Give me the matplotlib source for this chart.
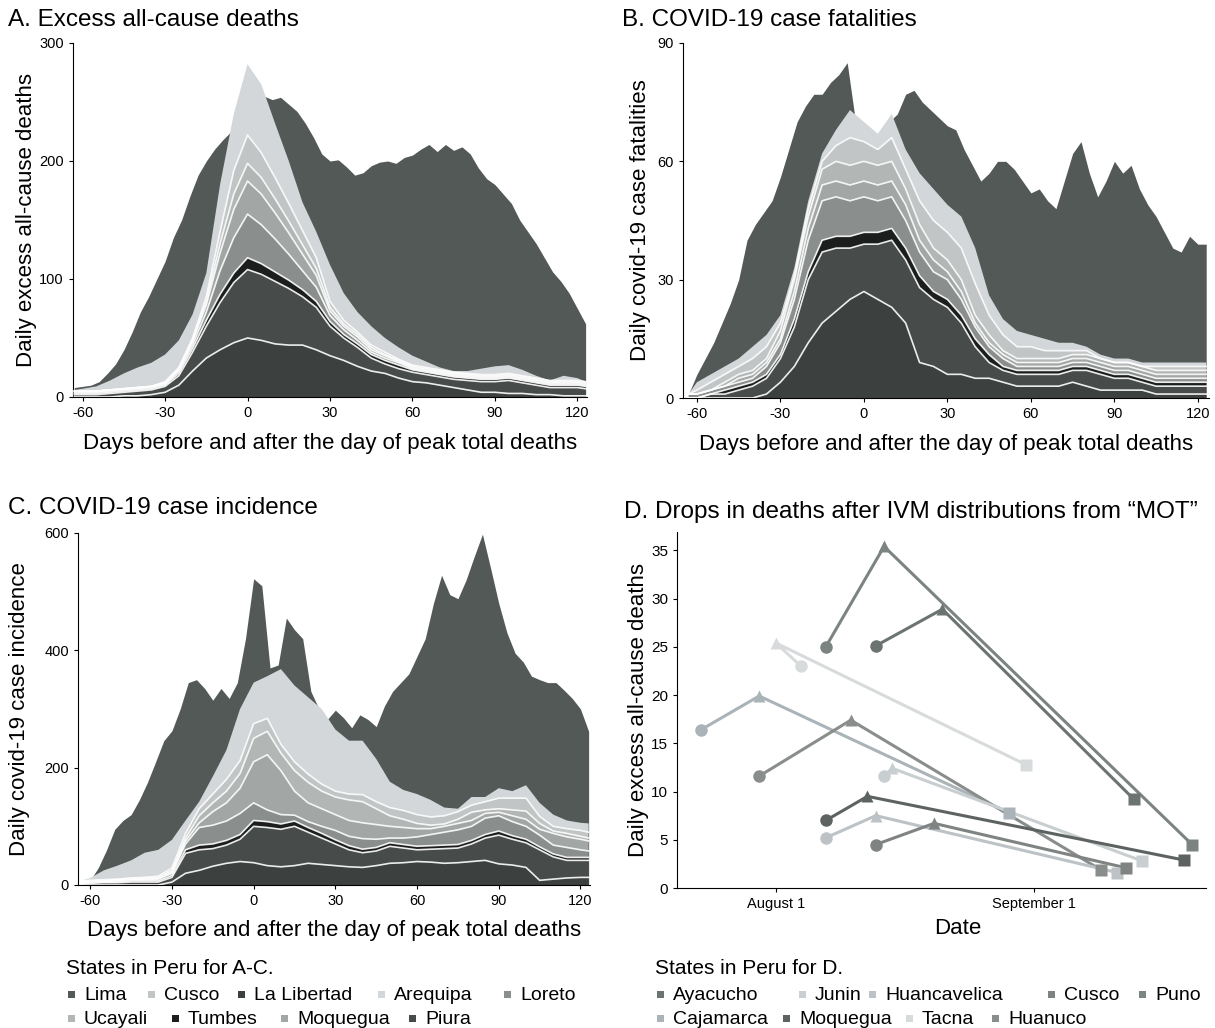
import numpy as np
import matplotlib
matplotlib.use("Agg")
import matplotlib.pyplot as plt
from matplotlib.patches import Rectangle

plt.rcParams['font.family'] = ['Liberation Sans', 'DejaVu Sans']
plt.rcParams['axes.unicode_minus'] = False

W, H = 1215, 1028

# ---- days relative to the day of peak total deaths ----
lima_days = [-63, -60, -57, -54, -51, -48, -45, -42, -39, -36, -33, -30, -27, -24, -21, -18, -15, -12, -9, -6,
             -3, 0, 3, 6, 9, 12, 15, 18, 21, 24, 27, 30, 33, 36, 39, 42, 45, 48, 51, 54,
             57, 60, 63, 66, 69, 72, 75, 78, 81, 84, 87, 90, 93, 96, 99, 102, 105, 108, 111, 114,
             117, 120, 123]
stack_days = [-63, -60, -55, -50, -45, -40, -35, -30, -25, -20, -15, -10, -5, 0, 5, 10, 15, 20, 25, 30,
              35, 40, 45, 50, 55, 60, 65, 70, 75, 80, 85, 90, 95, 100, 105, 110, 115, 120, 123]

# ---- A. excess all-cause deaths ----
exc_lima = [8, 9, 10, 13, 20, 28, 40, 55, 72, 85, 100, 115, 135, 150, 170, 188, 200, 210, 218, 225,
            235, 245, 250, 255, 252, 254, 248, 242, 232, 220, 206, 200, 201, 195, 188, 190, 196, 199, 200, 198,
            203, 205, 210, 214, 208, 214, 209, 212, 206, 194, 185, 180, 172, 164, 150, 140, 130, 118, 106, 98,
            88, 75, 62]
exc_lalibertad = [0, 0, 0, 0, 1, 1, 2, 4, 10, 22, 33, 40, 46, 50, 48, 45, 44, 44, 40, 35,
                  31, 26, 22, 20, 16, 13, 12, 10, 8, 6, 4, 4, 3, 3, 2, 2, 1, 1, 1]
exc_piura = [2, 2, 2, 3, 3, 4, 4, 5, 8, 16, 27, 40, 51, 58, 56, 53, 48, 41, 36, 25,
             19, 16, 11, 8, 8, 8, 7, 7, 7, 8, 9, 9, 11, 9, 8, 6, 7, 7, 6]
exc_tumbes = [1, 1, 1, 1, 1, 1, 1, 1, 2, 3, 5, 7, 8, 10, 9, 8, 7, 6, 5, 4,
              3, 3, 3, 3, 3, 2, 2, 2, 2, 2, 2, 2, 2, 2, 2, 2, 2, 2, 2]
exc_loreto = [1, 1, 1, 1, 1, 1, 1, 1, 2, 3, 7, 20, 30, 37, 33, 28, 22, 16, 12, 5,
              4, 3, 2, 2, 2, 1, 1, 1, 1, 1, 1, 1, 1, 1, 1, 1, 1, 1, 1]
exc_moquegua = [1, 1, 1, 1, 1, 1, 1, 1, 1, 3, 6, 15, 24, 28, 26, 22, 18, 14, 10, 4,
                3, 3, 2, 2, 1, 1, 1, 1, 1, 1, 1, 1, 1, 1, 1, 1, 1, 1, 1]
exc_ucayali = [0, 0, 0, 0, 0, 0, 0, 0, 1, 1, 3, 8, 13, 15, 14, 12, 10, 8, 6, 3,
               2, 2, 2, 1, 1, 1, 1, 1, 1, 1, 1, 1, 1, 1, 1, 1, 1, 1, 1]
exc_cusco = [0, 0, 0, 0, 0, 0, 0, 1, 1, 2, 4, 10, 20, 24, 21, 18, 15, 12, 9, 5,
             3, 2, 2, 2, 1, 1, 1, 1, 1, 1, 1, 1, 1, 1, 1, 1, 1, 1, 1]
exc_arequipa = [1, 2, 4, 8, 13, 17, 20, 23, 23, 20, 20, 40, 48, 60, 58, 46, 36, 24, 22, 31,
                23, 17, 16, 12, 10, 8, 5, 2, 1, 2, 5, 7, 7, 5, 2, 0, 4, 2, 0]

# ---- B. covid-19 case fatalities ----
fat_lima = [1, 6, 10, 14, 19, 24, 30, 40, 44, 47, 50, 56, 63, 70, 74, 77, 77, 80, 82, 85,
            70, 68, 65, 66, 70, 72, 77, 78, 75, 73, 71, 69, 68, 63, 59, 55, 57, 60, 60, 58,
            55, 52, 53, 50, 48, 55, 62, 65, 57, 51, 55, 60, 57, 59, 53, 49, 46, 42, 38, 37,
            41, 39, 39]
fat_lalibertad = [0, 0, 0, 0, 0, 0, 1, 4, 8, 14, 19, 22, 25, 27, 25, 23, 19, 9, 8, 6,
                  6, 5, 5, 4, 3, 3, 3, 3, 4, 3, 2, 2, 2, 2, 1, 1, 1, 1, 1]
fat_piura = [0, 0, 1, 1, 2, 3, 4, 6, 10, 16, 18, 16, 13, 12, 14, 17, 16, 19, 17, 17,
             13, 8, 4, 3, 3, 3, 3, 3, 3, 4, 4, 3, 3, 2, 2, 2, 2, 2, 2]
fat_tumbes = [0, 0, 0, 1, 1, 1, 1, 1, 2, 2, 3, 3, 3, 3, 3, 3, 3, 3, 2, 2,
              2, 2, 2, 1, 1, 1, 1, 1, 1, 1, 1, 1, 1, 1, 1, 1, 1, 1, 1]
fat_loreto = [1, 1, 1, 1, 1, 1, 2, 3, 5, 8, 10, 10, 9, 9, 8, 8, 7, 6, 5, 5,
              4, 3, 2, 2, 1, 1, 1, 1, 1, 1, 1, 1, 1, 1, 1, 1, 1, 1, 1]
fat_moquegua = [0, 0, 0, 0, 1, 1, 1, 1, 2, 3, 4, 4, 4, 4, 4, 4, 4, 3, 3, 2,
                2, 1, 1, 1, 1, 1, 1, 1, 1, 1, 1, 1, 1, 1, 1, 1, 1, 1, 1]
fat_ucayali = [0, 0, 0, 1, 1, 1, 1, 2, 3, 3, 4, 5, 5, 5, 5, 5, 4, 4, 3, 3,
               3, 2, 2, 1, 1, 1, 1, 1, 1, 1, 1, 1, 1, 1, 1, 1, 1, 1, 1]
fat_cusco = [0, 1, 2, 2, 2, 3, 3, 2, 1, 2, 2, 4, 7, 5, 4, 6, 5, 6, 7, 7,
             8, 8, 5, 4, 3, 3, 2, 2, 1, 1, 0, 0, 0, 0, 1, 1, 1, 1, 1]
fat_arequipa = [0, 2, 2, 2, 2, 3, 3, 2, 2, 2, 2, 4, 7, 5, 4, 6, 5, 7, 8, 7,
                8, 9, 5, 4, 4, 3, 3, 2, 2, 1, 1, 1, 1, 1, 1, 1, 1, 1, 1]

# ---- C. covid-19 case incidence ----
inc_lima = [0, 8, 30, 60, 95, 110, 120, 145, 175, 210, 246, 263, 300, 345, 350, 335, 315, 335, 318, 345,
            420, 522, 510, 370, 375, 455, 435, 420, 330, 300, 282, 298, 285, 268, 290, 282, 270, 305, 330, 345,
            360, 390, 420, 480, 528, 495, 488, 520, 560, 598, 540, 480, 430, 395, 380, 356, 350, 345, 345, 332,
            318, 300, 262]
inc_lalibertad = [0, 0, 0, 0, 0, 0, 0, 5, 20, 25, 32, 37, 40, 38, 33, 31, 33, 37, 35, 33,
                  31, 30, 33, 37, 38, 40, 39, 37, 38, 40, 42, 36, 34, 30, 8, 10, 12, 13, 13]
inc_piura = [2, 3, 4, 4, 5, 5, 5, 8, 34, 35, 30, 31, 38, 62, 65, 64, 67, 53, 45, 37,
             29, 25, 25, 29, 25, 20, 22, 25, 25, 30, 38, 49, 44, 42, 52, 38, 30, 29, 29]
inc_tumbes = [1, 1, 1, 1, 2, 2, 2, 3, 6, 8, 8, 8, 8, 10, 10, 9, 9, 8, 8, 7,
              7, 6, 6, 6, 6, 6, 6, 6, 6, 6, 6, 7, 6, 6, 5, 5, 5, 5, 5]
inc_loreto = [1, 1, 1, 2, 2, 2, 3, 4, 10, 30, 32, 33, 36, 30, 20, 16, 10, 10, 12, 16,
              16, 18, 14, 8, 11, 16, 19, 22, 25, 24, 28, 26, 24, 22, 20, 15, 17, 13, 11]
inc_moquegua = [1, 1, 1, 1, 1, 1, 1, 2, 5, 8, 23, 31, 43, 70, 94, 75, 41, 32, 30, 27,
                27, 27, 25, 20, 18, 14, 10, 10, 11, 10, 8, 6, 10, 12, 10, 20, 18, 18, 17]
inc_ucayali = [1, 1, 1, 1, 1, 2, 2, 3, 5, 12, 15, 20, 25, 40, 40, 30, 35, 35, 30, 30,
               35, 36, 27, 18, 14, 9, 6, 4, 7, 14, 6, 6, 10, 14, 10, 4, 6, 5, 5]
inc_cusco = [1, 1, 1, 1, 1, 1, 2, 4, 8, 12, 15, 20, 22, 25, 22, 15, 15, 14, 12, 10,
             10, 12, 12, 14, 15, 15, 14, 14, 13, 12, 14, 18, 20, 22, 12, 8, 8, 10, 10]
inc_arequipa = [1, 4, 16, 23, 30, 42, 45, 48, 22, 12, 30, 50, 88, 70, 72, 128, 130, 131, 128, 105,
                91, 92, 73, 44, 35, 35, 29, 14, 5, 14, 8, 17, 12, 22, 23, 20, 14, 13, 15]

# ---- D. drops in deaths after IVM distributions ----
d_states = ['Puno', 'Ayacucho', 'Tacna', 'Cajamarca', 'Huanuco', 'Junin', 'Moquegua', 'Huancavelica', 'Cusco']
d_dates = [['2020-08-07', '2020-08-14', '2020-09-20'],
           ['2020-08-13', '2020-08-21', '2020-09-13'],
           ['2020-08-04', '2020-08-01', '2020-08-31'],
           ['2020-07-23', '2020-07-30', '2020-08-29'],
           ['2020-07-30', '2020-08-10', '2020-09-09'],
           ['2020-08-14', '2020-08-15', '2020-09-14'],
           ['2020-08-07', '2020-08-12', '2020-09-19'],
           ['2020-08-07', '2020-08-13', '2020-09-11'],
           ['2020-08-13', '2020-08-20', '2020-09-12']]
d_values = [[25.0, 35.4, 4.5],
            [25.1, 28.9, 9.2],
            [23.0, 25.4, 12.8],
            [16.4, 19.9, 7.8],
            [11.6, 17.4, 1.9],
            [11.6, 12.4, 2.8],
            [7.0, 9.5, 2.9],
            [5.2, 7.5, 1.6],
            [4.5, 6.7, 2.1]]
d_colors = ['#7c8482', '#6c7471', '#d8dbdc', '#aab3b7', '#898d8c', '#c9ced1', '#5d6361', '#bcc2c5', '#7f8483']

# stacking order (bottom to top) and colours for A-C
stack_states = ['La Libertad', 'Piura', 'Tumbes', 'Loreto', 'Moquegua', 'Ucayali', 'Cusco', 'Arequipa']
stack_colors = ['#3c403e', '#474c4a', '#1c1e1d', '#8a8f8d', '#a2a6a5', '#b2b6b5', '#c1c5c5', '#d3d7da']
lima_color = '#535956'

fig = plt.figure(figsize=(W / 100, H / 100), dpi=100)


def px_axes(left, top, right, bottom):
    return fig.add_axes([left / W, 1 - bottom / H, (right - left) / W, (bottom - top) / H])


def area_panel(ax, lima, layers, ymax, yticks, xlim, ylabel, ylab_x, xlab_y):
    ax.fill_between(lima_days, lima, 0, color=lima_color, lw=0, zorder=1)
    ax.stackplot(stack_days, *layers, colors=stack_colors, lw=0, zorder=2)
    tops = np.cumsum(np.array(layers, dtype=float), axis=0)
    for k in range(len(layers) - 1):
        ax.plot(stack_days, tops[k], color='white', lw=1.2, alpha=0.9, zorder=3)
    ax.set_xlim(*xlim)
    ax.set_ylim(0, ymax)
    ax.set_xticks([-60, -30, 0, 30, 60, 90, 120])
    ax.set_yticks(yticks)
    for s in ['top', 'right']:
        ax.spines[s].set_visible(False)
    ax.tick_params(labelsize=10.5, length=3, width=0.8, direction='out')
    ax.set_xlabel('Days before and after the day of peak total deaths', fontsize=16)
    ax.xaxis.set_label_coords(0.5, xlab_y)
    ax.set_ylabel(ylabel, fontsize=16)
    ax.yaxis.set_label_coords(ylab_x, 0.5)


axA = px_axes(73, 43, 587, 397)
area_panel(axA, exc_lima,
           [exc_lalibertad, exc_piura, exc_tumbes, exc_loreto, exc_moquegua, exc_ucayali, exc_cusco, exc_arequipa],
           300, [0, 100, 200, 300], (-63.5, 123.5), 'Daily excess all-cause deaths', -0.070, -0.102)

axB = px_axes(683, 43, 1209, 398)
area_panel(axB, fat_lima,
           [fat_lalibertad, fat_piura, fat_tumbes, fat_loreto, fat_moquegua, fat_ucayali, fat_cusco, fat_arequipa],
           90, [0, 30, 60, 90], (-65, 124), 'Daily covid-19 case fatalities', -0.061, -0.102)

axC = px_axes(78, 533, 590, 885)
area_panel(axC, inc_lima,
           [inc_lalibertad, inc_piura, inc_tumbes, inc_loreto, inc_moquegua, inc_ucayali, inc_cusco, inc_arequipa],
           600, [0, 200, 400, 600], (-64.5, 123.5), 'Daily covid-19 case incidence', -0.094, -0.099)

# panel D
axD = px_axes(677, 532, 1206, 888)
for st, dt, vals, col in zip(d_states, d_dates, d_values, d_colors):
    x = np.array(dt, dtype='datetime64[D]')
    axD.plot(x, vals, color=col, lw=2.2, zorder=2)
    axD.plot(x[0], vals[0], 'o', ms=9, color=col, mec='none', zorder=3)
    axD.plot(x[1], vals[1], '^', ms=9, color=col, mec='none', zorder=3)
    axD.plot(x[2], vals[2], 's', ms=9, color=col, mec='none', zorder=3)
axD.set_xlim(np.datetime64('2020-07-20T03'), np.datetime64('2020-09-21T16'))
axD.set_ylim(0, 36.9)
axD.set_yticks([0, 5, 10, 15, 20, 25, 30, 35])
axD.set_xticks([np.datetime64('2020-08-01'), np.datetime64('2020-09-01')])
axD.set_xticklabels(['August 1', 'September 1'])
for s in ['top', 'right']:
    axD.spines[s].set_visible(False)
axD.tick_params(axis='y', labelsize=11, length=3)
axD.tick_params(axis='x', labelsize=10.5, length=3)
axD.set_xlabel('Date', fontsize=16)
axD.xaxis.set_label_coords(0.531, -0.084)
axD.set_ylabel('Daily excess all-cause deaths', fontsize=16)
axD.yaxis.set_label_coords(-0.053, 0.5)

# panel titles
fig.text(8 / W, 1 - 20 / H, 'A. Excess all-cause deaths', fontsize=17.5, va='center')
fig.text(622 / W, 1 - 20 / H, 'B. COVID-19 case fatalities', fontsize=17.5, va='center')
fig.text(8 / W, 1 - 508 / H, 'C. COVID-19 case incidence', fontsize=17.5, va='center')
fig.text(624 / W, 1 - 512 / H, 'D. Drops in deaths after IVM distributions from \u201cMOT\u201d',
         fontsize=17.5, va='center')

# legends below the panels
ac_colors = dict(zip(stack_states, stack_colors))
ac_colors['Lima'] = lima_color
d_color_map = dict(zip(d_states, d_colors))
ac_rows = [(995, [('Lima', 84), ('Cusco', 164), ('La Libertad', 254), ('Arequipa', 394), ('Loreto', 520)]),
           (1019, [('Ucayali', 84), ('Tumbes', 188), ('Moquegua', 297), ('Piura', 425)])]
d_rows = [(995, [('Ayacucho', 673), ('Junin', 815), ('Huancavelica', 885), ('Cusco', 1064), ('Puno', 1155)]),
          (1019, [('Cajamarca', 673), ('Moquegua', 799), ('Tacna', 922), ('Huanuco', 1008)])]


def legend_block(x, title, rows, cmap):
    fig.text(x / W, 1 - 968 / H, title, fontsize=15, va='center')
    for y, entries in rows:
        for name, tx in entries:
            fig.patches.append(Rectangle(((tx - 16) / W, 1 - (y + 3) / H), 7 / W, 7 / H,
                                         transform=fig.transFigure, facecolor=cmap[name],
                                         edgecolor='none'))
            fig.text(tx / W, 1 - y / H, name, fontsize=14, va='center')


legend_block(66, 'States in Peru for A-C.', ac_rows, ac_colors)
legend_block(655, 'States in Peru for D.', d_rows, d_color_map)

fig.savefig('out.png', dpi=100)
